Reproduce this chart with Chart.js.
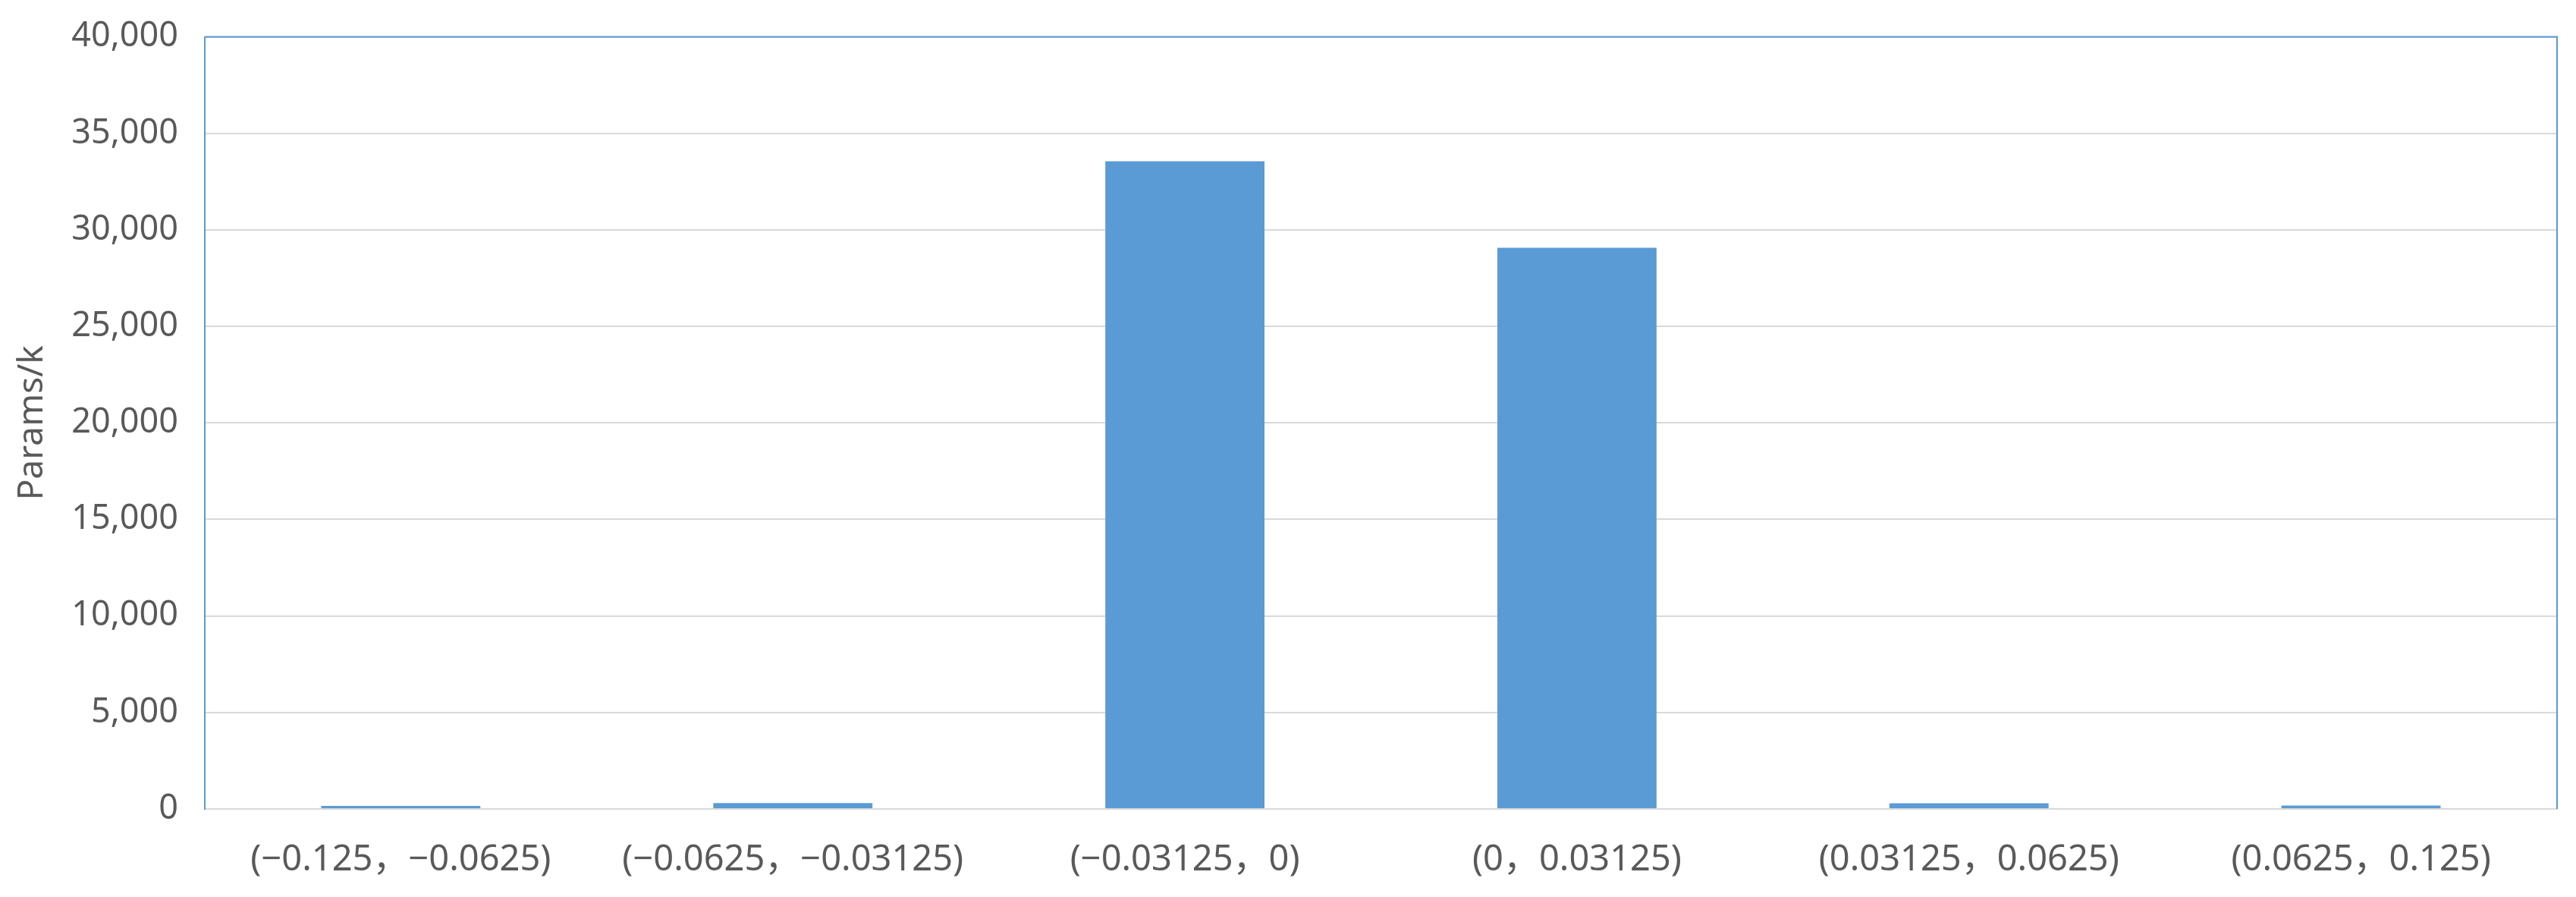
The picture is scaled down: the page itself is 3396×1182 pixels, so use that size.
<!DOCTYPE html>
<html>
<head>
<meta charset="utf-8">
<script src="https://cdn.jsdelivr.net/npm/chart.js@4/dist/chart.umd.min.js"></script>
<style>
  html, body { margin: 0; padding: 0; background: #ffffff; }
  #wrap { width: 3396px; height: 1182px; position: relative; }
</style>
</head>
<body>
<div id="wrap"><canvas id="c" width="3396" height="1182"></canvas></div>
<script>
const categories = [
  "(\u22120.125\uFF0C\u22120.0625)",
  "(\u22120.0625\uFF0C\u22120.03125)",
  "(\u22120.03125\uFF0C0)",
  "(0\uFF0C0.03125)",
  "(0.03125\uFF0C0.0625)",
  "(0.0625\uFF0C0.125)"
];
const paramsK = [160, 300, 33550, 29070, 290, 180];
const yTicks = [0, 5000, 10000, 15000, 20000, 25000, 30000, 35000, 40000];
const yTitle = "Params/k";

const BLUE = "#5B9BD5";
const GRID = "#D9D9D9";
const TEXT = "#595959";
const FONT = "'Noto Sans', 'Noto Sans CJK SC', sans-serif";

const frameBorder = {
  id: "frameBorder",
  afterDatasetsDraw(chart) {
    const a = chart.chartArea;
    const ctx = chart.ctx;
    ctx.save();
    ctx.strokeStyle = BLUE;
    ctx.lineWidth = 2;
    ctx.beginPath();
    ctx.moveTo(a.left, a.top);
    ctx.lineTo(a.right, a.top);
    ctx.lineTo(a.right, a.bottom);
    ctx.stroke();
    ctx.restore();
  }
};

new Chart(document.getElementById("c"), {
  type: "bar",
  data: {
    labels: categories,
    datasets: [{
      data: paramsK,
      backgroundColor: BLUE,
      borderWidth: 0,
      categoryPercentage: 1.0,
      barPercentage: 0.406
    }]
  },
  options: {
    responsive: false,
    animation: false,
    devicePixelRatio: 1,
    layout: { padding: { left: 0, right: 25, top: 46, bottom: 0 } },
    plugins: { legend: { display: false }, tooltip: { enabled: false } },
    scales: {
      x: {
        grid: { display: false, drawTicks: false },
        border: { display: true, color: GRID, width: 2 },
        ticks: {
          color: TEXT,
          font: { family: FONT, size: 47 },
          padding: 39,
          maxRotation: 0,
          autoSkip: false
        },
        afterFit(scale) { scale.height = 116; }
      },
      y: {
        min: 0,
        max: 40000,
        afterBuildTicks(scale) { scale.ticks = yTicks.map(v => ({ value: v })); },
        grid: { color: GRID, lineWidth: 2, drawTicks: false },
        border: { display: true, color: BLUE, width: 2 },
        ticks: {
          color: TEXT,
          font: { family: FONT, size: 45, lineHeight: 0.6 },
          padding: 35,
          callback: v => Number(v).toLocaleString("en-US")
        },
        title: {
          display: true,
          text: yTitle,
          color: TEXT,
          font: { family: FONT, size: 46 },
          padding: { top: 15, bottom: 0 }
        },
        afterFit(scale) { scale.width = 270; }
      }
    }
  },
  plugins: [frameBorder]
});
</script>
</body>
</html>
